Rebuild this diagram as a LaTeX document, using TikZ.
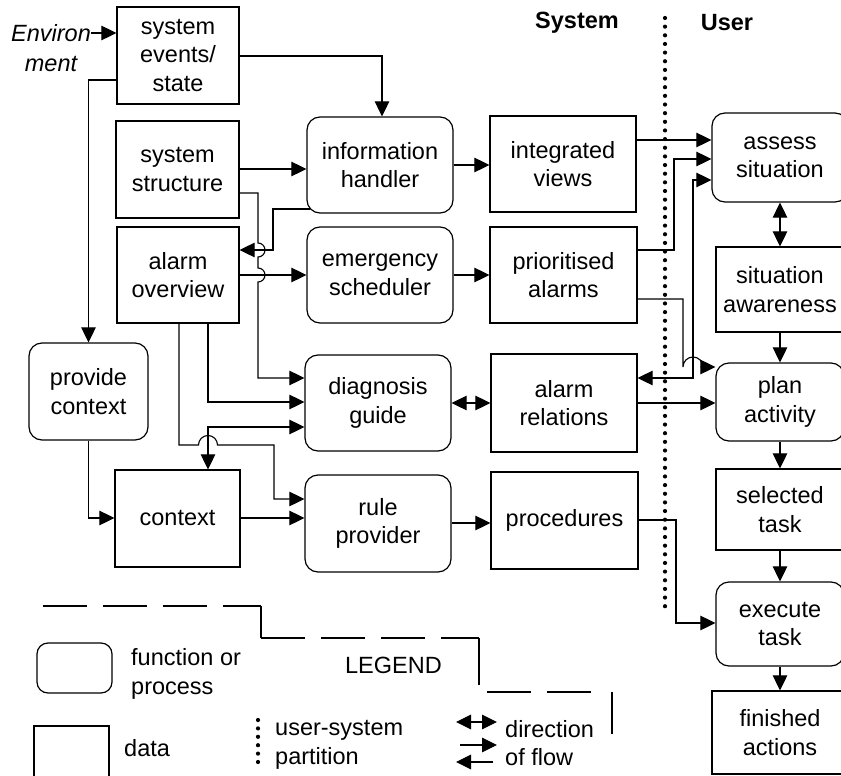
\documentclass[tikz,border=0pt]{standalone}
\usepackage{fontspec}
\setmainfont{Liberation Sans}
\usetikzlibrary{arrows.meta}

\begin{document}
\begin{tikzpicture}[x=1pt,y=1pt,
  every node/.style={font=\fontsize{23.5}{28.5}\selectfont, inner sep=0pt, align=center},
  databox/.style={draw, line width=1.2pt, rectangle},
  procbox/.style={draw, line width=1.2pt, rounded corners=13pt},
  flow/.style={line width=1.1pt, -{Triangle[length=15pt,width=14.5pt]}},
  bothflow/.style={line width=1.1pt, {Triangle[length=15pt,width=14.5pt]}-{Triangle[length=15pt,width=14.5pt]}},
  partline/.style={line width=4.2pt, line cap=round, dash pattern=on 0pt off 8.65pt},
  legline/.style={line width=1.1pt, dash pattern=on 44pt off 16pt},
  legedge/.style={line width=1.1pt}]

\useasboundingbox (0,0) rectangle (841,-776);

% headings and the user/system partition
\node[font=\fontsize{23.5}{28.5}\selectfont\bfseries] (syslbl) at (577,-23) {System};
\node[font=\fontsize{23.5}{28.5}\selectfont\bfseries] (usrlbl) at (727,-23) {User};
\coordinate (parttop) at (665,-18);
\coordinate (partbot) at (665,-609);
\draw[partline] (parttop) -- (partbot);

% environment input
\node[font=\fontsize{23.5}{29.5}\selectfont\itshape] (env) at (51,-48) {Environ\\ment};

% data and function boxes
\node[databox, minimum width=122pt, minimum height=97pt] (sev) at (178,-55.5) {system\\events/\\state};
\node[databox, minimum width=123pt, minimum height=97pt] (sst) at (177.5,-169.5) {system\\structure};
\node[databox, minimum width=122pt, minimum height=96pt] (aov) at (178,-275) {alarm\\overview};
\node[procbox, minimum width=146pt, minimum height=96pt] (ih) at (380,-165) {information\\handler};
\node[databox, minimum width=146pt, minimum height=96pt] (iv) at (563,-164) {integrated\\views};
\node[procbox, minimum width=146pt, minimum height=96pt] (es) at (380,-275) {emergency\\scheduler};
\node[databox, minimum width=147pt, minimum height=96pt] (pa) at (563.5,-275) {prioritised\\alarms};
\node[procbox, minimum width=146pt, minimum height=96pt] (dg) at (378,-403) {diagnosis\\guide};
\node[databox, minimum width=146pt, minimum height=98pt] (ar) at (564,-403) {alarm\\relations};
\node[procbox, minimum width=119pt, minimum height=97pt] (pc) at (88.5,-391.5) {provide\\context};
\node[databox, minimum width=125pt, minimum height=97pt] (ctx) at (177.5,-518.5) {context};
\node[procbox, minimum width=146pt, minimum height=97pt] (rp) at (378,-523.5) {rule\\provider};
\node[databox, minimum width=147pt, minimum height=97pt] (proc) at (564.5,-520.5) {procedures};
\node[procbox, minimum width=136pt, minimum height=89pt] (as) at (780,-157.5) {assess\\situation};
\node[databox, minimum width=128pt, minimum height=85pt] (sa) at (780,-289.5) {situation\\awareness};
\node[procbox, minimum width=128pt, minimum height=78pt] (pla) at (780,-402) {plan\\activity};
\node[databox, minimum width=128pt, minimum height=81pt] (st) at (780,-509.5) {selected\\task};
\node[procbox, minimum width=128pt, minimum height=84pt] (et) at (780,-624) {execute\\task};
\node[databox, minimum width=136pt, minimum height=83pt] (fa) at (780,-732.5) {finished\\actions};

% system side flows
\draw[flow] (env.east |- 0,-33) -- (sev.west |- 0,-33);
\draw[flow] (sev.east |- 0,-56) -| (ih.north -| 382,0);
\draw[flow] (sev.west |- 0,-80) -| (pc.north);
\draw[flow] (sst.east |- 0,-169) -- (ih.west |- 0,-169);
\draw[flow] (sst.east |- 0,-193) -- (258,-193) -- (258,-243)
  arc[start angle=90, end angle=-90, radius=7pt] -- (258,-268)
  arc[start angle=90, end angle=-90, radius=7pt] -- (258,-378) -- (dg.west |- 0,-378);
\draw[flow] ([xshift=4pt]ih.west |- 0,-209) -- (273,-209) -- (273,-250) -- (aov.east |- 0,-250);
\draw[flow] (aov.east |- 0,-275) -- (es.west |- 0,-275);
\draw[flow] (ih.east |- 0,-165) -- (iv.west |- 0,-165);
\draw[flow] (es.east |- 0,-275) -- (pa.west |- 0,-275);
\draw[flow] (aov.south -| 208,0) |- (dg.west |- 0,-402);
\draw[flow] (aov.south -| 179,0) -- (179,-445) -- (198.5,-445)
  arc[start angle=180, end angle=0, radius=9.5pt] -- (274,-445) -- (274,-499) -- (rp.west |- 0,-499);
\draw[bothflow] (ctx.north -| 208,0) |- (dg.west |- 0,-427);
\draw[flow] (pc.south) |- (ctx.west |- 0,-518);
\draw[flow] (ctx.east |- 0,-518) -- (rp.west |- 0,-518);
\draw[bothflow] (dg.east |- 0,-403) -- (ar.west |- 0,-403);
\draw[flow] (rp.east |- 0,-523) -- (proc.west |- 0,-523);

% flows across the partition
\draw[flow] (iv.east |- 0,-140) -- (as.west |- 0,-140);
\draw[flow] (pa.east |- 0,-250) -- (674,-250) |- (as.west |- 0,-159);
\draw[bothflow] (as.west |- 0,-180) -- (693,-180) |- (ar.east |- 0,-378);
\draw[flow] (pa.east |- 0,-299) -- (683,-299) -- (683,-367)
  arc[start angle=180, end angle=0, radius=10pt] -- (pla.west |- 0,-367);
\draw[flow] (ar.east |- 0,-403) -- (pla.west |- 0,-403);
\draw[flow] (proc.east |- 0,-520) -- (676,-520) |- (et.west |- 0,-623);

% user side flows
\draw[bothflow] (as.south) -- (sa.north);
\draw[flow] (sa.south) -- (pla.north);
\draw[flow] (pla.south) -- (st.north);
\draw[flow] (st.south) -- (et.north);
\draw[flow] (et.south) -- (fa.north);

% legend frame
\draw[legline] (43,-606) -- (261,-606);
\draw[legedge] (261,-606) -- (261,-638);
\draw[legline] (261,-638) -- (479,-638);
\draw[legedge] (479,-638) -- (479,-685);
\draw[legline] (487,-692) -- (595,-692);
\draw[legedge] (612,-692) -- (612,-734);

% legend entries
\node (legend) at (393.5,-665) {LEGEND};
\node[procbox, rounded corners=11pt, minimum width=75pt, minimum height=50pt] (lgproc) at (74.5,-668) {};
\node[anchor=west, align=left] (lgproctxt) at (131,-674) {function or\\process};
\node[databox, minimum width=75pt, minimum height=60pt] (lgdata) at (71.5,-756) {};
\node[anchor=west] (lgdatatxt) at (124,-748.5) {data};
\coordinate (lgdot1) at (258,-720);
\coordinate (lgdot2) at (258,-764);
\draw[partline, dash pattern=on 0pt off 8.4pt] (lgdot1) -- (lgdot2);
\node[anchor=west, align=left] (lgparttxt) at (275,-745) {user-system\\partition};
\coordinate (lga1) at (456,-722);
\coordinate (lga2) at (497,-722);
\draw[bothflow] (lga1) -- (lga2);
\coordinate (lgb1) at (460,-745);
\coordinate (lgb2) at (497,-745);
\draw[flow] (lgb1) -- (lgb2);
\coordinate (lgc1) at (493,-762);
\coordinate (lgc2) at (456,-762);
\draw[flow] (lgc1) -- (lgc2);
\node[anchor=west, align=left] (lgflowtxt) at (505,-743) {direction\\of flow};

\end{tikzpicture}
\end{document}
